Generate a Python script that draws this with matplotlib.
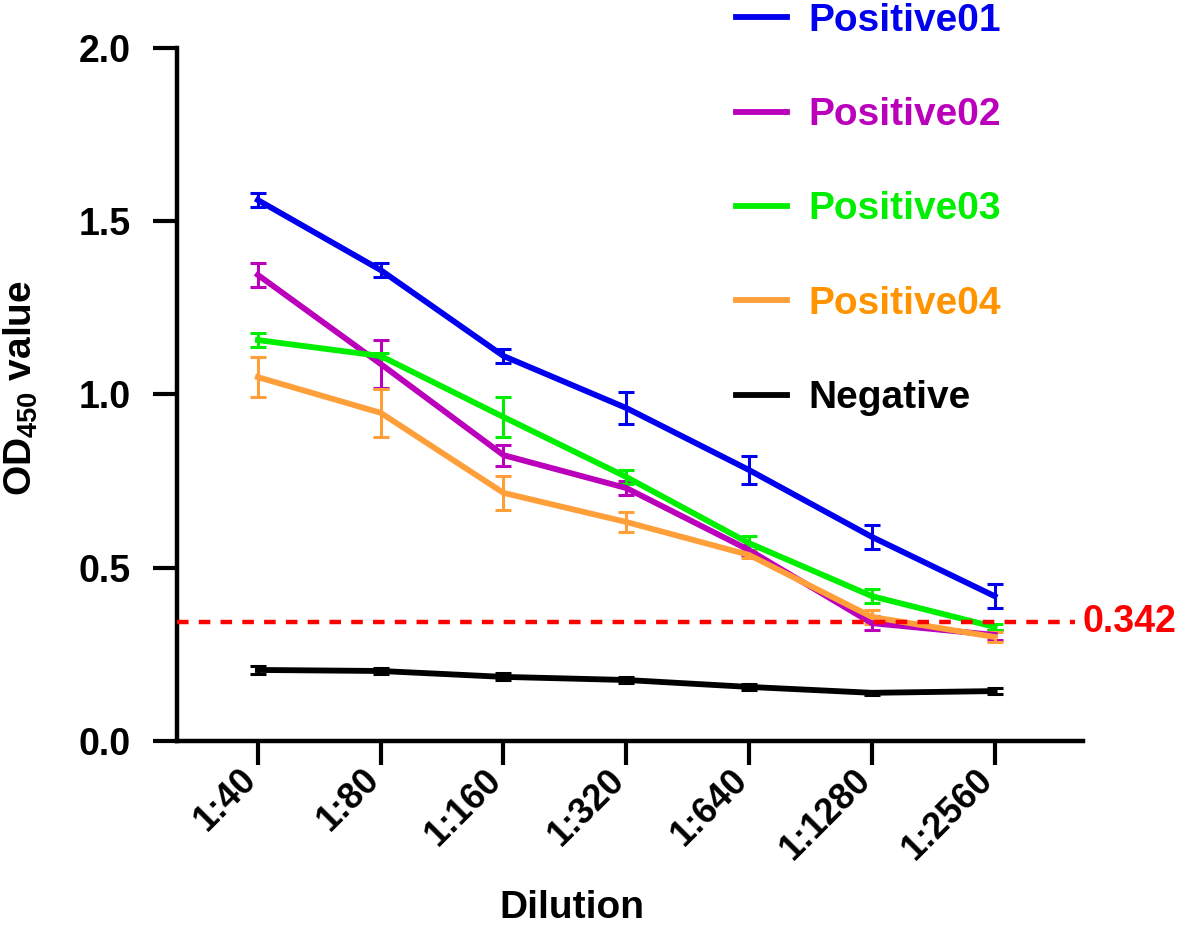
import numpy as np
import matplotlib.pyplot as plt
from matplotlib.lines import Line2D

plt.rcParams['font.family'] = ['Liberation Sans', 'DejaVu Sans']
plt.rcParams['font.weight'] = 'bold'
plt.rcParams['mathtext.fontset'] = 'custom'
plt.rcParams['mathtext.rm'] = 'Liberation Sans:bold'
plt.rcParams['mathtext.bf'] = 'Liberation Sans:bold'
plt.rcParams['mathtext.default'] = 'bf'

# data
dilutions = ["1:40", "1:80", "1:160", "1:320", "1:640", "1:1280", "1:2560"]

pos01 = [1.561, 1.359, 1.111, 0.961, 0.782, 0.589, 0.418]
pos01_err = [0.02, 0.02, 0.02, 0.047, 0.04, 0.035, 0.035]

pos02 = [1.345, 1.088, 0.825, 0.730, 0.551, 0.340, 0.306]
pos02_err = [0.035, 0.07, 0.03, 0.02, 0.015, 0.02, 0.015]

pos03 = [1.157, 1.111, 0.935, 0.762, 0.571, 0.418, 0.329]
pos03_err = [0.02, 0.01, 0.059, 0.02, 0.02, 0.02, 0.01]

pos04 = [1.050, 0.947, 0.716, 0.632, 0.537, 0.358, 0.300]
pos04_err = [0.057, 0.07, 0.049, 0.03, 0.01, 0.02, 0.015]

neg = [0.205, 0.202, 0.185, 0.176, 0.156, 0.139, 0.144]
neg_err = [0.012, 0.01, 0.01, 0.01, 0.008, 0.006, 0.008]

cutoff = 0.342

names = ["Positive01", "Positive02", "Positive03", "Positive04", "Negative"]
colors = ["#0000ee", "#bb00bb", "#00ee00", "#ff9f3a", "#000000"]
text_colors = ["#0000ee", "#bb00bb", "#00ee00", "#ff9400", "#000000"]
series = [(pos01, pos01_err), (pos02, pos02_err), (pos03, pos03_err),
          (pos04, pos04_err), (neg, neg_err)]

fig = plt.figure(figsize=(11.79, 9.26), dpi=100)
ax = fig.add_axes([0.150, 0.1998, 0.7686, 0.7484])

x = np.arange(len(dilutions))
handles = []
for (vals, errs), c, name in zip(series, colors, names):
    ax.errorbar(x, vals, yerr=errs, color=c, lw=4.2, elinewidth=2.2,
                capsize=5.5, capthick=2.2, zorder=3)
    handles.append(Line2D([0], [0], color=c, lw=4.2, label=name))

ax.axhline(cutoff, xmin=0, xmax=0.991, color="#ff0000", lw=3.2,
           ls=(0, (2.6, 2.3)), zorder=4)
ax.text(6.716, cutoff, f"{cutoff}", color="#ff0000", fontsize=27,
        fontweight='bold', va='center', ha='left', clip_on=False)

ax.set_xlim(-0.66, 6.72)
ax.set_ylim(0, 2.0)
ax.set_yticks([0, 0.5, 1.0, 1.5, 2.0])
ax.set_yticklabels(["0.0", "0.5", "1.0", "1.5", "2.0"])
ax.set_xticks(x)
ax.set_xticklabels(dilutions, rotation=45, ha='right', va='baseline',
                   rotation_mode='anchor')

for s in ['top', 'right']:
    ax.spines[s].set_visible(False)
for s in ['left', 'bottom']:
    ax.spines[s].set_linewidth(3.2)
ax.tick_params(axis='both', width=3, length=17, labelsize=27)
ax.tick_params(axis='y', pad=16)
ax.tick_params(axis='x', pad=12, labelsize=26)

ax.set_xlabel("Dilution", fontsize=28, fontweight='bold')
ax.xaxis.set_label_coords(0.436, -0.215)
ax.set_ylabel("OD$_{450}$ value", fontsize=28, fontweight='bold')
ax.yaxis.set_label_coords(-0.151, 0.51)

leg = fig.legend(handles=handles, loc='upper left',
                 bbox_to_anchor=(736 / 1179, 0.997), borderpad=0,
                 borderaxespad=0, frameon=False, handlelength=1.31,
                 handletextpad=0.54, labelspacing=1.5,
                 prop={'weight': 'bold', 'size': 28})
for t, c in zip(leg.get_texts(), text_colors):
    t.set_color(c)

fig.savefig("out.png", dpi=100)
